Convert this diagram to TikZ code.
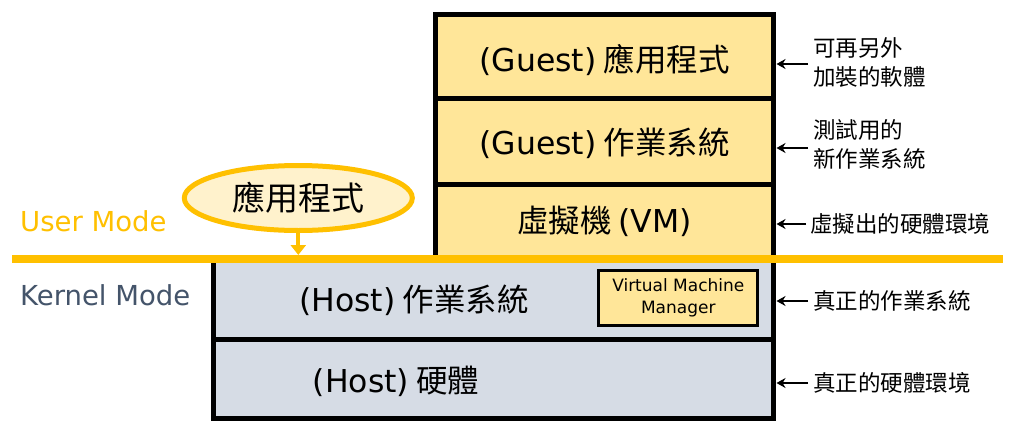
\documentclass[tikz,border=0pt]{standalone}
\usepackage{fontspec}
\newfontfamily\cjk{Noto Sans CJK TC}
\newfontfamily\lat{DejaVu Sans}
\usetikzlibrary{arrows.meta,shapes.geometric}
\definecolor{gold}{HTML}{FFC000}
\definecolor{lyel}{HTML}{FFE699}
\definecolor{pyel}{HTML}{FFF2CC}
\definecolor{lgray}{HTML}{D6DCE5}
\definecolor{slate}{HTML}{44546A}
\begin{document}
\begin{tikzpicture}[x=1pt,y=-1pt]
\useasboundingbox[fill=white] (0,0) rectangle (1024,439);
\tikzset{
 every node/.style={font=\cjk, inner sep=0pt},
 layer/.style={draw=black, line width=5pt, anchor=north west, outer sep=0pt, minimum width=338pt},
 big/.style={font=\cjk\fontsize{31.5}{36}\selectfont},
 note/.style={font=\cjk\fontsize{22.5}{29}\selectfont, align=left, anchor=west},
 modelabel/.style={font=\lat\fontsize{27.5}{30}\selectfont, anchor=west},
 pointer/.style={line width=2.5pt, -{Stealth[length=9pt,width=10pt]}},
}
% guest stack
\node[layer, fill=lyel, minimum height=84pt] (g1) at (435.5,14.5) {};
\node[layer, fill=lyel, minimum height=86pt] (g2) at (435.5,98.5) {};
\node[layer, fill=lyel, minimum height=77.5pt] (g3) at (435.5,184.5) {};
% host stack
\node[layer, fill=lgray, minimum width=560pt, minimum height=79.5pt] (h1) at (213.5,260) {};
\node[layer, fill=lgray, minimum width=560pt, minimum height=79pt] (h2) at (213.5,339.5) {};
% mode boundary
\coordinate (ul) at (12,258.5);
\coordinate (ur) at (1003,258.5);
\draw[gold, line width=8pt] (ul) -- (ur);
% texts in layers
\node[big] (t1) at (604.5,60) {{\lat (Guest)} 應用程式};
\node[big] (t2) at (604.5,143) {{\lat (Guest)} 作業系統};
\node[big] (t3) at (604.5,221) {虛擬機 {\lat (VM)}};
\node[big] (t4) at (414,300) {{\lat (Host)} 作業系統};
\node[big] (t5) at (396,381) {{\lat (Host)} 硬體};
% VMM
\node[draw=black, line width=3pt, fill=lyel, minimum width=159pt, minimum height=54.5pt,
      outer sep=0pt, font=\lat\fontsize{17}{22}\selectfont, align=center] (vmm) at (678.3,298.2)
      {Virtual Machine\\Manager};
% application ellipse
\node[ellipse, draw=gold, line width=5pt, fill=pyel, minimum width=228pt, minimum height=65pt,
      font=\cjk\fontsize{33}{38}\selectfont] (app) at (298.3,198) {應用程式};
\coordinate (appin) at (298.3,255);
\draw[gold, line width=4pt, -{Triangle[length=10pt,width=15pt]}] (app.south) -- (appin);
% mode labels
\node[modelabel, text=gold] (um) at (20,221) {User Mode};
\node[modelabel, text=slate] (km) at (20,295) {Kernel Mode};
% notes
\node[note] (n1) at (813,62) {可再另外\\加裝的軟體};
\node[note] (n2) at (813,144) {測試用的\\新作業系統};
\node[note] (n3) at (810,224) {虛擬出的硬體環境};
\node[note] (n4) at (813,301) {真正的作業系統};
\node[note] (n5) at (813,383) {真正的硬體環境};
\draw[pointer] ([xshift=-5pt,yshift=-2pt]n1.west) -- ([xshift=3pt,yshift=-2pt]n1.west -| g1.east);
\draw[pointer] ([xshift=-5pt,yshift=-4pt]n2.west) -- ([xshift=3pt,yshift=-4pt]n2.west -| g2.east);
\draw[pointer] ([xshift=-4pt]n3.west) -- ([xshift=3pt]n3.west -| g3.east);
\draw[pointer] ([xshift=-5pt]n4.west) -- ([xshift=3pt]n4.west -| h1.east);
\draw[pointer] ([xshift=-5pt]n5.west) -- ([xshift=3pt]n5.west -| h2.east);
\end{tikzpicture}
\end{document}
